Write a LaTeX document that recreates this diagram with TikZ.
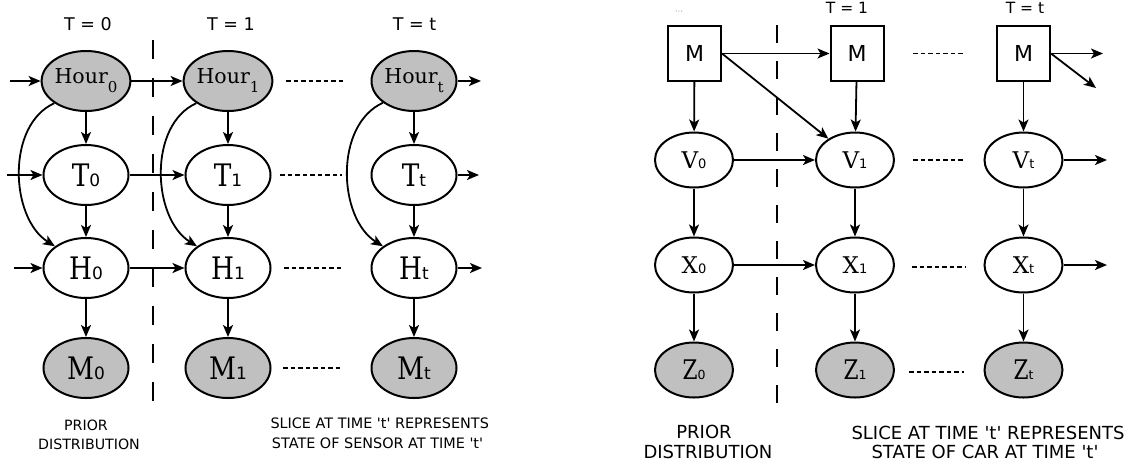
\documentclass[tikz,border=0pt]{standalone}
\usepackage{fontspec}
\setmainfont{DejaVu Serif}
\newfontfamily\labsans{DejaVu Sans}
\newfontfamily\narrowserif[FakeStretch=0.85]{DejaVu Serif}
\newfontfamily\zserif[FakeStretch=0.8]{DejaVu Serif}
\usetikzlibrary{shapes.geometric,arrows.meta,calc}
\definecolor{nodegray}{RGB}{192,192,192}
\newcommand\bigv[2]{{\narrowserif\fontsize{31}{33}\selectfont #1}{\labsans\fontsize{17}{18}\selectfont #2}}
\newcommand\hourv[1]{{\fontsize{20.5}{22}\selectfont Hour\raisebox{-9pt}{\fontsize{15}{16}\selectfont #1}}}
\newcommand\medv[2]{{\fontsize{23}{25}\selectfont #1}{\labsans\fontsize{13}{14}\selectfont #2}}
\newcommand\zv[2]{{\zserif\fontsize{27}{29}\selectfont #1}{\labsans\fontsize{12.5}{13}\selectfont #2}}
\begin{document}
\begin{tikzpicture}[x=1pt,y=-1pt,
  arr/.style={line width=1.8pt,-{Stealth[length=12pt,width=10pt,inset=3pt]}},
  bigell/.style={ellipse,draw,line width=2pt,minimum width=85pt,minimum height=60pt,inner sep=0pt},
  grayell/.style={bigell,fill=nodegray},
  smell/.style={ellipse,draw,line width=2pt,minimum width=78pt,minimum height=55pt,inner sep=0pt},
  smgray/.style={smell,fill=nodegray},
  mbox/.style={rectangle,draw,line width=2pt,minimum width=53pt,minimum height=55pt,inner sep=0pt,font=\labsans\fontsize{22}{23}\selectfont},
  dots/.style={line width=1.7pt,dash pattern=on 4.5pt off 3pt},
  slicer/.style={line width=1.9pt,dash pattern=on 19pt off 19pt},
  toplab/.style={anchor=base,font=\labsans\fontsize{17.5}{18}\selectfont},
  toplabr/.style={anchor=base,font=\labsans\fontsize{15.5}{16}\selectfont},
  botlab/.style={anchor=base,font=\labsans\fontsize{14.2}{15}\selectfont},
  botlabr/.style={anchor=base,font=\labsans\fontsize{18}{19}\selectfont}
]
\useasboundingbox (0,0) rectangle (1128,467);

% ================= LEFT DIAGRAM =================
\node[toplab] (tl0) at (88,30) {T = 0};
\node[toplab] (tl1) at (231,30) {T = 1};
\node[toplab] (tlt) at (414.5,30) {T = t};

\node[grayell] (hour0) at (86,81) {\hourv{0}};
\node[grayell] (hour1) at (228,81) {\hourv{1}};
\node[grayell] (hourt) at (414,81) {\hourv{t}};
\node[bigell] (t0) at (86,175) {\bigv{T}{0}};
\node[bigell] (t1) at (228,175) {\bigv{T}{1}};
\node[bigell] (tt) at (414,175) {\bigv{T}{t}};
\node[bigell] (h0) at (86,268) {\bigv{H}{0}};
\node[bigell] (h1) at (228,268) {\bigv{H}{1}};
\node[bigell] (ht) at (414,268) {\bigv{H}{t}};
\node[grayell] (m0) at (86,368) {\bigv{M}{0}};
\node[grayell] (m1) at (228,368) {\bigv{M}{1}};
\node[grayell] (mt) at (414,368) {\bigv{M}{t}};

\draw[slicer] (153,40) -- (153,408);

\coordinate (inhour) at (10,81);
\coordinate (int) at (7,175);
\coordinate (inh) at (14,268);
\coordinate (outhour) at (481,81);
\coordinate (outt) at (479,175);
\coordinate (outh) at (482,268);

\draw[arr] (inhour) -- (hour0);
\draw[arr] (int) -- (t0);
\draw[arr] (inh) -- (h0);
\draw[arr] (hour0) -- (hour1);
\draw[arr] (t0) -- (t1);
\draw[arr] (h0) -- (h1);
\draw[arr] (hourt) -- (outhour);
\draw[arr] (tt) -- (outt);
\draw[arr] (ht) -- (outh);

\foreach \c in {0,1,t}{
  \draw[arr] (hour\c) -- (t\c);
  \draw[arr] (t\c) -- (h\c);
  \draw[arr] (h\c) -- (m\c);
  \draw[arr] (hour\c.215) .. controls ($(hour\c)+(-80,44)$) and ($(h\c)+(-76,-50)$) .. (h\c.145);
}

\draw[dots] (286,81) -- (345,81);
\draw[dots] (280,175) -- (342,175);
\draw[dots] (284,268) -- (343,268);
\draw[dots] (283,368) -- (343,368);

\node[botlab] (pl1) at (86,430) {PRIOR};
\node[botlab] (pl2) at (89,449) {DISTRIBUTION};
\begin{scope}
\clip (0,0) rectangle (487,467);
\node[botlab,anchor=base west,font=\labsans\fontsize{14.4}{15}\selectfont] (sl1) at (267,428) {SLICE AT TIME 't' REPRESENTS};
\end{scope}
\node[botlab,font=\labsans\fontsize{14.4}{15}\selectfont] (sl2) at (377.5,448) {STATE OF SENSOR AT TIME 't'};

% ================= RIGHT DIAGRAM =================
\node[anchor=base,font=\labsans\fontsize{2.5}{3}\selectfont,text=gray] (tr0) at (679,12) {T = 0};
\node[toplabr] (tr1) at (847,13) {T = 1};
\node[toplabr] (trt) at (1025,13) {T = t};

\node[mbox] (bm0) at (694.5,53.5) {M};
\node[mbox] (bm1) at (857,53.5) {M};
\node[mbox] (bmt) at (1023.5,53.5) {M};
\node[smell] (v0) at (694,160) {\medv{V}{0}};
\node[smell] (v1) at (855,160) {\medv{V}{1}};
\node[smell] (vt) at (1023.5,160) {\medv{V}{t}};
\node[smell] (x0) at (694,265) {\medv{X}{0}};
\node[smell] (x1) at (855,265) {\medv{X}{1}};
\node[smell] (xt) at (1023.5,265) {\medv{X}{t}};
\node[smgray] (z0) at (694,370) {\zv{Z}{0}};
\node[smgray] (z1) at (855,370) {\zv{Z}{1}};
\node[smgray] (zt) at (1023.5,370) {\zv{Z}{t}};

\draw[slicer,dash pattern=on 18pt off 18pt] (777,25) -- (777,411);

\coordinate (outm1) at (1103,53.5);
\coordinate (outm2) at (1096,88);
\coordinate (outv) at (1107,160);
\coordinate (outx) at (1107,265);

\draw[arr] (bm0) -- (bm1);
\draw[arr] (bm0.east) -- (v1);
\draw[arr] (v0) -- (v1);
\draw[arr] (x0) -- (x1);
\draw[arr] (bmt) -- (outm1);
\draw[arr] (bmt.east) -- (outm2);
\draw[arr] (vt) -- (outv);
\draw[arr] (xt) -- (outx);
\foreach \c in {0,1,t}{
  \draw[arr] (bm\c) -- (v\c);
  \draw[arr] (v\c) -- (x\c);
  \draw[arr] (x\c) -- (z\c);
}

\draw[dots] (913,53.5) -- (965,53.5);
\draw[dots] (913,160) -- (965,160);
\draw[dots] (912,267) -- (965,267);
\draw[dots] (909,372) -- (964,372);

\node[botlabr] (pr1) at (704,438) {PRIOR};
\node[botlabr] (pr2) at (708,458) {DISTRIBUTION};
\begin{scope}
\clip (0,0) rectangle (1123,467);
\node[botlabr,anchor=base west] (sr1) at (848,439) {SLICE AT TIME 't' REPRESENTS};
\end{scope}
\node[botlabr] (sr2) at (985,458) {STATE OF CAR AT TIME 't'};
\end{tikzpicture}
\end{document}
